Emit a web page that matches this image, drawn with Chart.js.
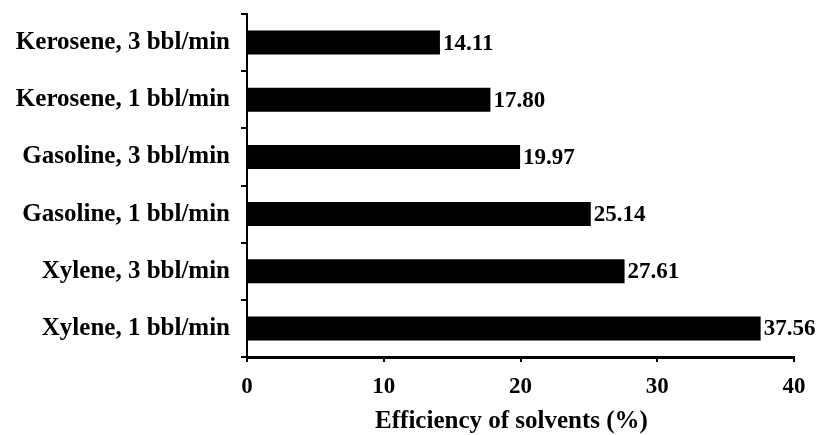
<!DOCTYPE html>
<html>
<head>
<meta charset="utf-8">
<script src="https://cdn.jsdelivr.net/npm/chart.js@4.4.1/dist/chart.umd.min.js"></script>
<style>
  html, body { margin: 0; padding: 0; background: #fff; }
  #wrap { width: 819px; height: 435px; position: relative; }
</style>
</head>
<body>
<div id="wrap"><canvas id="c"></canvas></div>
<script>
// Solvent / pump-rate combinations, top to bottom
const categories = [
  'Kerosene, 3 bbl/min',
  'Kerosene, 1 bbl/min',
  'Gasoline, 3 bbl/min',
  'Gasoline, 1 bbl/min',
  'Xylene, 3 bbl/min',
  'Xylene, 1 bbl/min'
];
// Efficiency of each solvent (%)
const efficiency = [14.11, 17.80, 19.97, 25.14, 27.61, 37.56];
const xTicks = [0, 10, 20, 30, 40];
const xTitle = 'Efficiency of solvents (%)';

const FONT = '"Liberation Serif", "Times New Roman", serif';

// Writes each bar's value just past its end
const valueLabels = {
  id: 'valueLabels',
  afterDatasetsDraw(chart) {
    const ctx = chart.ctx;
    const meta = chart.getDatasetMeta(0);
    ctx.save();
    ctx.font = 'bold 23px ' + FONT;
    ctx.fillStyle = '#000';
    ctx.textAlign = 'left';
    ctx.textBaseline = 'middle';
    meta.data.forEach((bar, i) => {
      ctx.fillText(efficiency[i].toFixed(2), bar.x + 3, bar.y + 1);
    });
    ctx.restore();
  }
};

// Horizontal axis title, set a little left of the plot centre
const axisTitle = {
  id: 'axisTitle',
  afterDraw(chart) {
    const ctx = chart.ctx;
    const area = chart.chartArea;
    ctx.save();
    ctx.font = 'bold 25px ' + FONT;
    ctx.fillStyle = '#000';
    ctx.textAlign = 'center';
    ctx.textBaseline = 'alphabetic';
    ctx.fillText(xTitle, (area.left + area.right) / 2 - 9, area.bottom + 71);
    ctx.restore();
  }
};

new Chart(document.getElementById('c'), {
  type: 'bar',
  data: {
    labels: categories,
    datasets: [{
      data: efficiency,
      backgroundColor: '#000',
      borderWidth: 0,
      categoryPercentage: 1.0,
      barPercentage: 0.42
    }]
  },
  options: {
    indexAxis: 'y',
    responsive: true,
    maintainAspectRatio: false,
    animation: false,
    layout: { padding: { top: 14, right: 25, bottom: 0, left: 0 } },
    plugins: { legend: { display: false }, tooltip: { enabled: false } },
    scales: {
      x: {
        type: 'linear',
        min: 0,
        max: 40,
        afterBuildTicks(scale) { scale.ticks = xTicks.map(v => ({ value: v })); },
        afterFit(scale) { scale.height = 78; },
        border: { display: true, color: '#000', width: 3 },
        grid: { drawOnChartArea: false, drawTicks: true, tickLength: 5, color: '#000', lineWidth: 2 },
        ticks: { color: '#000', font: { family: FONT, size: 23, weight: 'bold' }, padding: 11 }
      },
      y: {
        afterFit(scale) {
          scale.width = 247;
          scale.paddingTop = 0;
          scale.paddingBottom = 0;
        },
        border: { display: true, color: '#000', width: 2 },
        grid: { drawOnChartArea: false, drawTicks: true, tickLength: 6, color: '#000', lineWidth: 2, offset: true },
        ticks: { color: '#000', font: { family: FONT, size: 25, weight: 'bold' }, padding: 11 }
      }
    }
  },
  plugins: [valueLabels, axisTitle]
});
</script>
</body>
</html>
